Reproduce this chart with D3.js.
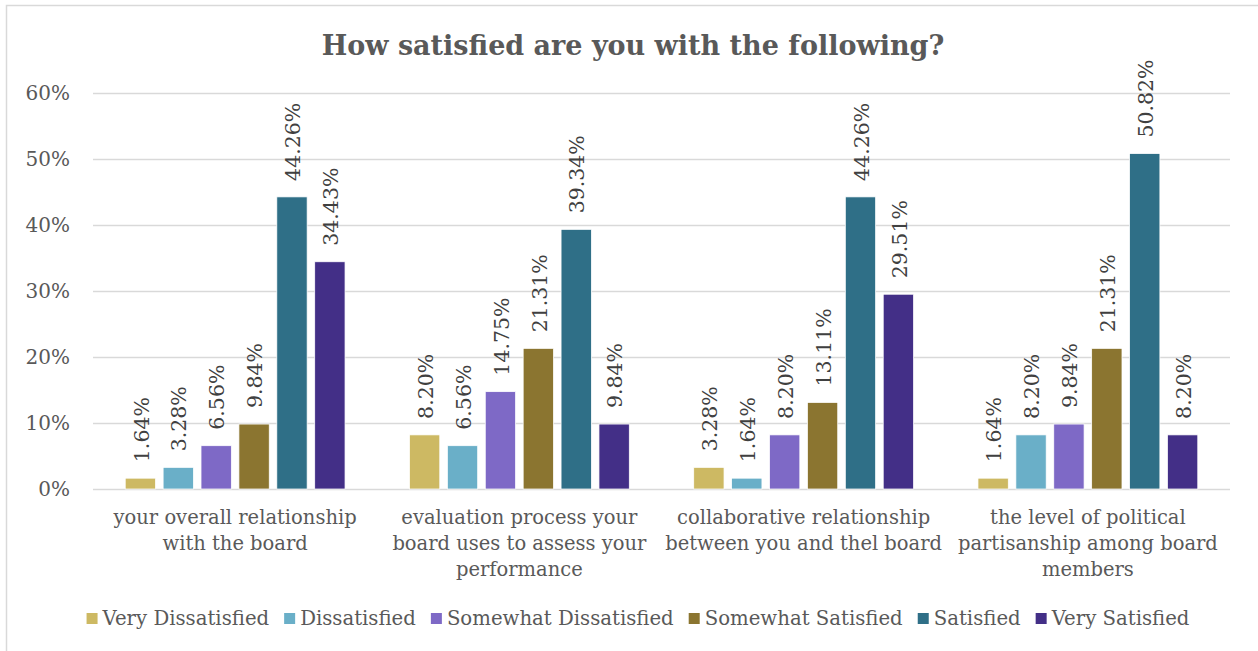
<!DOCTYPE html>
<html>
<head>
<meta charset="utf-8">
<script src="https://cdn.jsdelivr.net/npm/d3@7"></script>
<style>
  html, body { margin: 0; padding: 0; background: #fff; }
  svg { display: block; }
</style>
</head>
<body>
<svg id="chart" width="1258" height="651"></svg>
<script>
const categories = [
  ["your overall relationship", "with the board"],
  ["evaluation process your", "board uses to assess your", "performance"],
  ["collaborative relationship", "between you and thel board"],
  ["the level of political", "partisanship among board", "members"]
];
const seriesNames = ["Very Dissatisfied", "Dissatisfied", "Somewhat Dissatisfied", "Somewhat Satisfied", "Satisfied", "Very Satisfied"];
const seriesColors = ["#CDB963", "#6AAFC8", "#7E69C6", "#8B7530", "#2F6F87", "#432F87"];
const veryDissatisfied     = [1.64, 8.20, 3.28, 1.64];
const dissatisfied         = [3.28, 6.56, 1.64, 8.20];
const somewhatDissatisfied = [6.56, 14.75, 8.20, 9.84];
const somewhatSatisfied    = [9.84, 21.31, 13.11, 21.31];
const satisfied            = [44.26, 39.34, 44.26, 50.82];
const verySatisfied        = [34.43, 9.84, 29.51, 8.20];
const seriesValues = [veryDissatisfied, dissatisfied, somewhatDissatisfied, somewhatSatisfied, satisfied, verySatisfied];
const yTicks = [0, 10, 20, 30, 40, 50, 60];
const title = "How satisfied are you with the following?";

const FONT = "'DejaVu Serif', serif";
const TXT = "#595959";
const svg = d3.select("#chart");

// chart border
svg.append("rect").attr("x", 6.5).attr("y", 5.5).attr("width", 1270).attr("height", 670)
  .attr("fill", "#fff").attr("stroke", "#d9d9d9").attr("stroke-width", 1.5);

const plot = { left: 93, right: 1230, top: 93, bottom: 489 };
const catIdx = categories.map((d, i) => i);
const x0 = d3.scaleBand().domain(catIdx).range([plot.left, plot.right]).paddingInner(0.2).paddingOuter(0.1);
const x1 = d3.scaleBand().domain(d3.range(seriesNames.length)).range([0, x0.bandwidth()]).paddingInner(0.2).paddingOuter(0.1);
const y = d3.scaleLinear().domain([0, 60]).range([plot.bottom, plot.top]);

// gridlines + y axis
const yAxis = d3.axisLeft(y).tickValues(yTicks).tickSize(-(plot.right - plot.left)).tickFormat(d => d + "%").tickPadding(23);
const gy = svg.append("g").attr("transform", `translate(${plot.left},0)`).call(yAxis);
gy.select(".domain").remove();
gy.selectAll(".tick line").attr("stroke", "#d9d9d9").attr("stroke-width", 1.5);
gy.selectAll(".tick text").attr("fill", TXT).style("font-family", FONT).style("font-size", "20px");

// bars
const groups = svg.append("g").selectAll("g").data(catIdx).join("g")
  .attr("transform", d => `translate(${x0(d)},0)`);
groups.selectAll("rect").data(ci => seriesValues.map((vals, si) => ({ si, v: vals[ci] })))
  .join("rect")
  .attr("x", d => x1(d.si))
  .attr("width", x1.bandwidth())
  .attr("y", d => y(d.v))
  .attr("height", d => y(0) - y(d.v))
  .attr("fill", d => seriesColors[d.si])
  .attr("stroke", "#ffffff").attr("stroke-width", 0.75);

groups.selectAll("text").data(ci => seriesValues.map((vals, si) => ({ si, v: vals[ci] })))
  .join("text")
  .attr("transform", d => `translate(${x1(d.si) + x1.bandwidth() / 2 + 1},${y(d.v) - 16}) rotate(-90)`)
  .attr("dy", "0.35em")
  .attr("text-anchor", "start")
  .attr("fill", "#404040")
  .style("font-family", FONT).style("font-size", "20.5px")
  .text(d => d.v.toFixed(2) + "%");

// category labels
const cl = svg.append("g").selectAll("text").data(catIdx).join("text")
  .attr("x", d => x0(d) + x0.bandwidth() / 2)
  .attr("y", 524)
  .attr("text-anchor", "middle")
  .attr("fill", TXT)
  .style("font-family", FONT).style("font-size", "19.5px");
cl.selectAll("tspan").data(d => categories[d]).join("tspan")
  .attr("x", function () { return d3.select(this.parentNode).attr("x"); })
  .attr("dy", (d, i) => i === 0 ? 0 : 26)
  .text(d => d);

// title
svg.append("text").attr("x", 633).attr("y", 55).attr("text-anchor", "middle")
  .attr("fill", TXT).style("font-family", FONT).style("font-size", "27px").style("font-weight", "bold")
  .text(title);

// legend
const lg = svg.append("g");
let lx = 0;
const items = lg.selectAll("g").data(seriesNames).join("g");
items.append("rect").attr("width", 11).attr("height", 11).attr("y", -12).attr("fill", (d, i) => seriesColors[i]);
items.append("text").attr("x", 16).attr("y", 0).attr("fill", TXT)
  .style("font-family", FONT).style("font-size", "19.7px").text(d => d);
items.each(function () {
  const g = d3.select(this);
  g.attr("transform", `translate(${lx},625)`);
  lx += 16 + g.select("text").node().getComputedTextLength() + 15;
});
const total = lx - 15;
lg.attr("transform", `translate(${638 - total / 2},0)`);
</script>
</body>
</html>
